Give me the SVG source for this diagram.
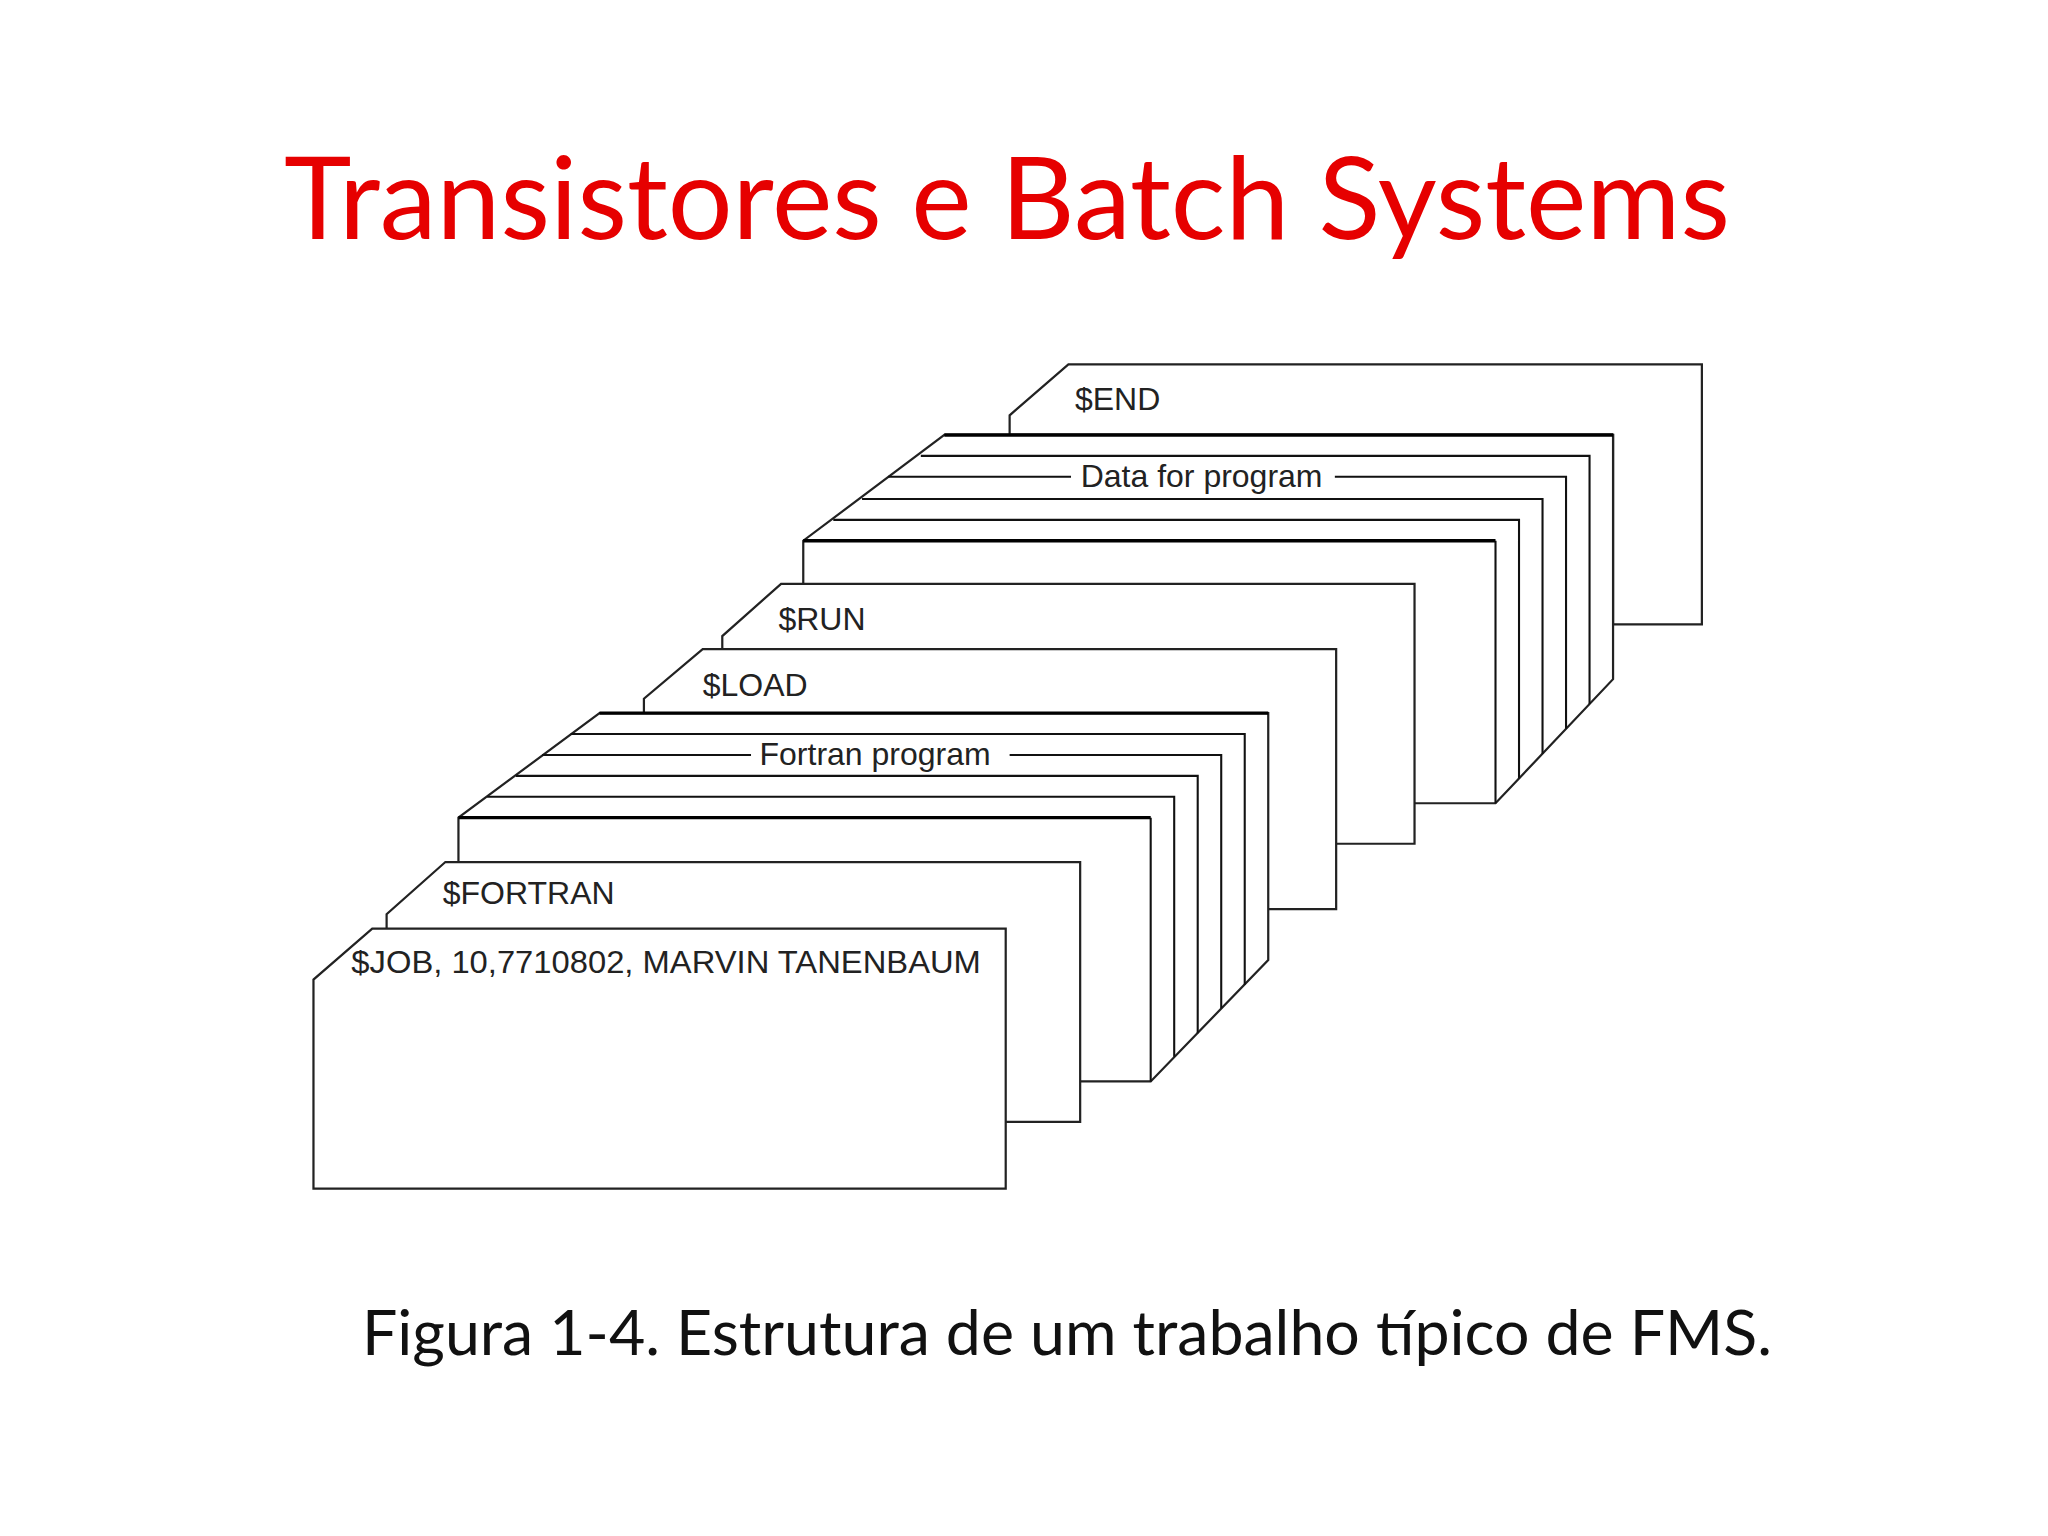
<svg xmlns="http://www.w3.org/2000/svg" width="2048" height="1536" viewBox="0 0 2048 1536">
<style>
.c{fill:#fff;stroke:#222;stroke-width:1.7;stroke-linejoin:miter}
.l{fill:none;stroke:#111;stroke-width:1.6}
.t{stroke:#000;stroke-width:2.6;fill:none}
.k{font-family:"Liberation Sans",Arial,sans-serif;font-size:24.5px;fill:#222}
</style>
<rect width="2048" height="1536" fill="#fff"/>
<text x="1007" y="239" text-anchor="middle" font-family="Lato,'Open Sans',sans-serif" font-size="114" fill="#e60000" textLength="1446" lengthAdjust="spacingAndGlyphs">Transistores e Batch Systems</text>
<text x="1067" y="1355" text-anchor="middle" font-family="Lato,'Open Sans',sans-serif" font-size="62" fill="#111" textLength="1410" lengthAdjust="spacingAndGlyphs">Figura 1-4. Estrutura de um trabalho típico de FMS.</text>
<g transform="scale(1.30612)">
<g id="end"><path class="c" d="M773,330 L773,318 L818,279 L1303,279 L1303,478 L1235,478 L1235,333 L773,333Z"/><text class="k" x="823" y="314">$END</text></g>
<g id="data">
<path class="c" d="M615,615 L615,414 L723,333 L1235,333 L1235,520 L1145,615Z"/>
<path class="l" d="M705,349H1217V539 M680,365H820 M1022,365H1199V558 M660,382H1181V577 M638,398H1163V596 M1145,414V615"/>
<path class="t" d="M723,333H1235 M615,414H1145"/>
<text class="k" x="920" y="373" text-anchor="middle">Data for program</text>
</g>
<g id="run"><path class="c" d="M553,500 L553,487 L598,447 L1083,447 L1083,646 L553,646Z"/><text class="k" x="596" y="482">$RUN</text></g>
<g id="load"><path class="c" d="M493,548 L493,535 L538,497 L1023,497 L1023,696 L493,696Z"/><text class="k" x="538" y="533">$LOAD</text></g>
<g id="fortran-deck">
<path class="c" d="M351,828 L351,626 L459,546 L971,546 L971,735 L881,828Z"/>
<path class="l" d="M437,562H953V754 M415,578H575 M773,578H935V772 M395,594H917V791 M373,610H899V809 M881,626V828"/>
<path class="t" d="M459,546H971 M351,626H881"/>
<text class="k" x="670" y="586" text-anchor="middle">Fortran program</text>
</g>
<g id="fortran"><path class="c" d="M296,712 L296,700 L341,660 L827,660 L827,859 L296,859Z"/><text class="k" x="339" y="692">$FORTRAN</text></g>
<g id="job"><path class="c" d="M240,910 L240,750 L285,711 L770,711 L770,910Z"/><text class="k" x="269" y="745" textLength="482" lengthAdjust="spacingAndGlyphs">$JOB, 10,7710802, MARVIN TANENBAUM</text></g>
</g>
</svg>
